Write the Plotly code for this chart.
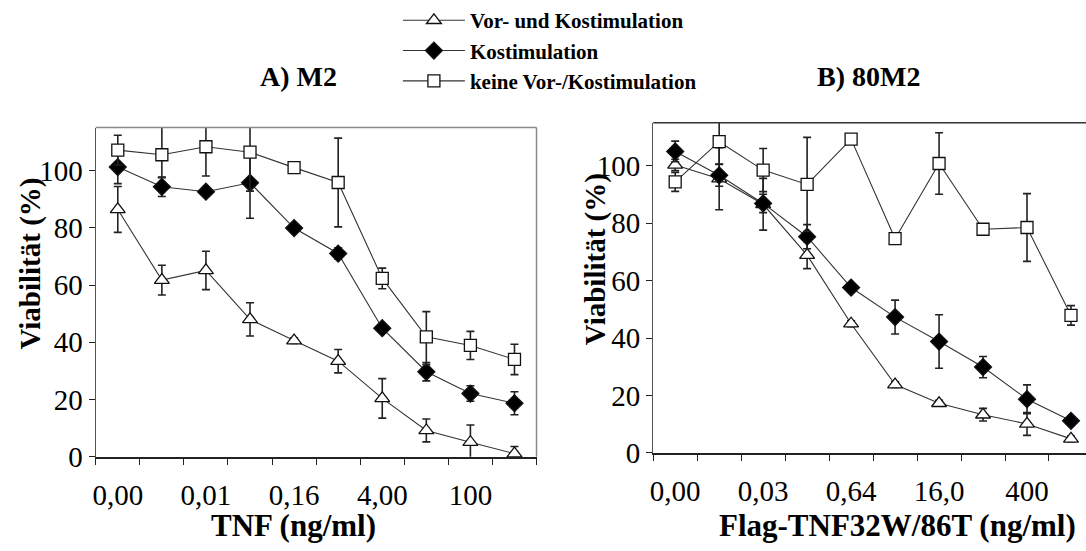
import plotly.graph_objects as go

# ---------------- data ----------------
series_names = ["Vor- und Kostimulation", "Kostimulation", "keine Vor-/Kostimulation"]

# Panel A) M2 : TNF (ng/ml), 10 dilution steps
a_tick_labels = ["0,00", "0,01", "0,16", "4,00", "100"]
a_tri = [86.4, 61.7, 65.1, 48.0, 40.6, 33.4, 20.4, 9.2, 5.1, 1.1]
a_tri_err = [8.0, 5.2, 6.7, 5.8, 1.0, 4.1, 6.9, 4.0, 6.0, 2.5]
a_dia = [101.2, 94.3, 92.6, 95.7, 79.9, 71.0, 44.9, 29.7, 22.1, 18.7]
a_dia_err = [5.8, 3.4, 1.0, 12.4, 1.0, 2.0, 1.0, 3.2, 2.7, 4.0]
a_sq = [107.1, 105.5, 108.3, 106.4, 101.0, 95.8, 62.3, 41.9, 38.9, 34.0]
a_sq_err_plus = [5.2, 14.0, 11.0, 13.0, 1.0, 15.5, 3.6, 8.8, 4.9, 5.3]
a_sq_err_minus = [5.2, 8.0, 10.2, 13.6, 1.0, 15.5, 3.6, 9.7, 4.9, 5.3]

# Panel B) 80M2 : Flag-TNF32W/86T (ng/ml)
b_tick_labels = ["0,00", "0,03", "0,64", "16,0", "400"]
b_tri = [100.3, 95.5, 86.6, 68.9, 45.0, 23.8, 17.3, 13.3, 10.1, 4.9]
b_tri_err = [2.0, 10.8, 9.0, 4.7, 1.0, 1.0, 1.0, 2.2, 4.0, 1.0]
b_dia = [105.0, 96.7, 86.9, 75.3, 57.6, 47.3, 38.8, 29.9, 18.7, 11.2]
b_dia_err = [3.6, 3.8, 3.2, 4.2, 1.5, 5.9, 9.3, 3.7, 5.0, 1.0]
b_sq = [94.4, 108.4, 98.5, 93.5, 109.3, 74.6, 100.8, 77.9, 78.5, 47.9]
b_sq_err = [3.3, 7.8, 7.5, 16.4, 1.0, 1.0, 10.7, 1.0, 11.8, 3.4]

x_idx = list(range(10))
label_idx = [0, 2, 4, 6, 8]
y_ticks = [0, 20, 40, 60, 80, 100]

# ---------------- styling ----------------
W, H = 1086, 551
serif = "Liberation Serif"
line_col = "#333333"
err_col = "#222222"


def px_x(p):
    return p / W


def px_y(p):
    return 1 - p / H


def add_series(fig, xa, ya, y, plus, minus, symbol, fill, name, show):
    fig.add_trace(go.Scatter(
        x=x_idx, y=y, mode="lines+markers", name=name, showlegend=show,
        xaxis=xa, yaxis=ya, cliponaxis=False,
        line=dict(color=line_col, width=1.1),
        marker=dict(symbol=symbol, size=13 if symbol != "square" else 12,
                    color=fill, line=dict(color="#111111", width=1.3)),
        error_y=dict(type="data", symmetric=False, array=plus, arrayminus=minus,
                     color=err_col, thickness=1.6, width=4),
    ))


fig = go.Figure()
add_series(fig, "x", "y", a_tri, a_tri_err, a_tri_err, "triangle-up", "white", series_names[0], True)
add_series(fig, "x", "y", a_dia, a_dia_err, a_dia_err, "diamond", "black", series_names[1], True)
add_series(fig, "x", "y", a_sq, a_sq_err_plus, a_sq_err_minus, "square", "white", series_names[2], True)
add_series(fig, "x2", "y2", b_tri, b_tri_err, b_tri_err, "triangle-up", "white", series_names[0], False)
add_series(fig, "x2", "y2", b_dia, b_dia_err, b_dia_err, "diamond", "black", series_names[1], False)
add_series(fig, "x2", "y2", b_sq, b_sq_err, b_sq_err, "square", "white", series_names[2], False)

tick_font = dict(family=serif, size=29, color="black")
bounds = [i - 0.5 for i in range(11)]


def xaxis_cfg(domain, labels, rng, anchor):
    return dict(domain=domain, range=rng, tickmode="array", tickvals=label_idx,
                ticktext=labels, ticks="", showgrid=False, zeroline=False,
                showline=True, linecolor="#222222", linewidth=1.5, anchor=anchor,
                tickfont=tick_font, ticklabelstandoff=12,
                minor=dict(tickmode="array", tickvals=bounds, ticks="outside",
                           ticklen=6, tickwidth=1.3, tickcolor="#222222", showgrid=False))


def yaxis_cfg(domain, anchor):
    return dict(domain=domain, range=[0, 115], tickmode="array", tickvals=y_ticks,
                ticks="outside", ticklen=6, tickwidth=1.3, tickcolor="#222222",
                showgrid=False, zeroline=False, showline=True, linecolor="#555555",
                linewidth=1.3, tickfont=tick_font, anchor=anchor)


fig.update_layout(
    width=W, height=H, margin=dict(l=0, r=0, t=0, b=0),
    paper_bgcolor="white", plot_bgcolor="white",
    xaxis=xaxis_cfg([px_x(93), px_x(535)], a_tick_labels, [-0.5, 9.5], "y"),
    yaxis=yaxis_cfg([px_y(470), px_y(129)], "x"),
    xaxis2=xaxis_cfg([px_x(652), 1.0], b_tick_labels, [-0.5, -0.5 + (1086 - 652) / 44.1], "y2"),
    yaxis2=yaxis_cfg([px_y(466), px_y(124)], "x2"),
    legend=dict(x=px_x(396), y=1.0 + 3 / H, xanchor="left", yanchor="top",
                bgcolor="rgba(0,0,0,0)", borderwidth=0, itemwidth=62,
                font=dict(family=serif, size=21, color="black", weight="bold"),
                tracegroupgap=0),
    showlegend=True,
)

# box borders (top / right)
fig.add_shape(type="line", xref="x domain", yref="y domain", x0=0, x1=1, y0=1, y1=1,
              line=dict(color="#8a8a8a", width=1.5))
fig.add_shape(type="line", xref="x domain", yref="y domain", x0=1, x1=1, y0=0, y1=1,
              line=dict(color="#8a8a8a", width=1.5))
fig.add_shape(type="line", xref="x2 domain", yref="y2 domain", x0=0, x1=1, y0=1, y1=1,
              line=dict(color="#333333", width=1.5))
# white legend background hiding the tops of long error bars (as in the original)
fig.add_shape(type="rect", xref="paper", yref="paper", x0=px_x(110), x1=px_x(520),
              y0=px_y(122), y1=1.0, fillcolor="white", line=dict(width=0), layer="above")

bold = dict(family=serif, size=31, color="black", weight="bold")
ytitle_font = dict(family=serif, size=29, color="black", weight="bold")
ann = [
    dict(text="A) M2", x=px_x(296), y=px_y(76),
         font=dict(family=serif, size=28, color="black", weight="bold")),
    dict(text="B) 80M2", x=px_x(868), y=px_y(76),
         font=dict(family=serif, size=28, color="black", weight="bold")),
    dict(text="TNF (ng/ml)", x=px_x(291), y=px_y(541), font=bold),
    dict(text="Flag-TNF32W/86T (ng/ml)", x=px_x(897), y=px_y(541), font=bold),
    dict(text="Viabilität (%)", x=px_x(28), y=px_y(270), font=ytitle_font, textangle=-90),
    dict(text="Viabilität (%)", x=px_x(595), y=px_y(265), font=ytitle_font, textangle=-90),
]
for a in ann:
    fig.add_annotation(xref="paper", yref="paper", showarrow=False,
                       xanchor="center", yanchor="middle", **a)

fig.write_html("out.html")
